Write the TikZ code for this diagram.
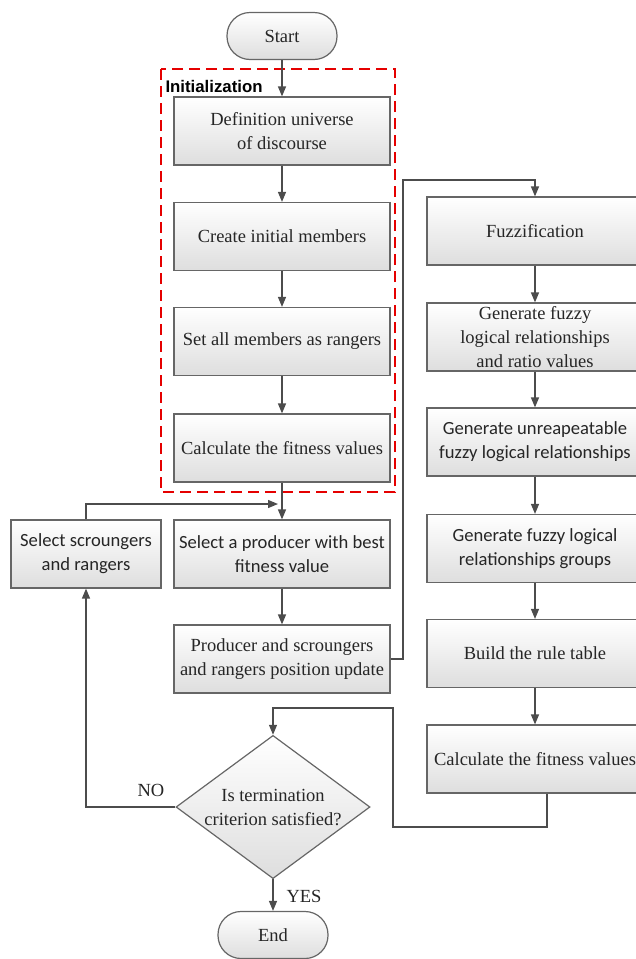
\documentclass[tikz,border=0pt]{standalone}
\usepackage{fontspec}
\setmainfont{Liberation Serif}
\newfontfamily\calibri{Carlito}
\newfontfamily\arialfont{Liberation Sans}
\usetikzlibrary{shapes.geometric,arrows.meta}
\begin{document}
\begin{tikzpicture}[
  x=1pt, y=-1pt,
  every node/.style={font=\rmfamily\fontsize{18.5}{24}\selectfont, text=black!85},
  box/.style={draw=black!60, line width=1.2pt, rectangle, top color=white, bottom color=black!13,
    minimum width=216pt, minimum height=68pt, align=center, inner sep=2pt},
  cbox/.style={box, font=\calibri\fontsize{18.6}{24}\selectfont},
  term/.style={box, rounded corners=23pt, minimum width=110pt, minimum height=47pt},
  test/.style={draw=black!60, line width=1.2pt, diamond, aspect=1.285, inner sep=0pt,
    top color=white, bottom color=black!13, align=center, minimum width=194pt},
  flow/.style={draw=black!70, line width=1.3pt, -{Triangle[length=10pt,width=8pt]}}
]
\useasboundingbox (0,0) rectangle (636,959);

\draw[red!90!black, line width=2.6pt, dash pattern=on 11pt off 6pt] (161,69) rectangle (395,492);
\node[anchor=west, font=\arialfont\bfseries\fontsize{16.8}{20}\selectfont, text=black] (init) at (162,86) {Initialization};

\node[term] (start) at (282,36) {Start};
\node[box] (univ) at (282,131) {Definition universe\\of discourse};
\node[box] (create) at (282,236.5) {Create initial members};
\node[box] (rangers) at (282,341.5) {Set all members as rangers};
\node[box] (fit1) at (282,448) {Calculate the fitness values};
\node[cbox] (producer) at (282,554) {Select a producer with best\\fitness value};
\node[cbox, minimum width=150pt] (scroung) at (86,554) {Select scroungers\\and rangers};
\node[box] (update) at (282,659) {Producer and scroungers\\and rangers position update};

\node[box] (fuzz) at (535,231) {Fuzzification};
\node[box] (flr) at (535,337) {Generate fuzzy\\logical relationships\\and ratio values};
\node[cbox] (unrep) at (535,442) {Generate unreapeatable\\fuzzy logical relationships};
\node[cbox] (groups) at (535,548.5) {Generate fuzzy logical\\relationships groups};
\node[box] (rule) at (535,653.5) {Build the rule table};
\node[box] (fit2) at (535,759) {Calculate the fitness values};

\node[test] (term) at (273,807) {Is termination\\criterion satisfied?};
\node[term] (end) at (273,935) {End};
\node (no) at (151,790) {NO};
\node (yes) at (304,896) {YES};

\coordinate (join) at (282,504);

\draw[flow] (start) -- (univ);
\draw[flow] (univ) -- (create);
\draw[flow] (create) -- (rangers);
\draw[flow] (rangers) -- (fit1);
\draw[flow] (fit1) -- (producer);
\draw[flow] (producer) -- (update);
\draw[flow, shorten >=4pt] (scroung.north) |- (join);
\draw[flow] (update.east) -- (403,659) -- (403,180) -| (fuzz.north);
\draw[flow] (fuzz) -- (flr);
\draw[flow] (flr) -- (unrep);
\draw[flow] (unrep) -- (groups);
\draw[flow] (groups) -- (rule);
\draw[flow] (rule) -- (fit2);
\draw[flow] (fit2.south -| 547,0) -- (547,827) -- (393,827) -- (393,708) -| (term.north);
\draw[flow] (term.west) -| (scroung.south);
\draw[flow] (term.south) -- (end.north);
\end{tikzpicture}
\end{document}
